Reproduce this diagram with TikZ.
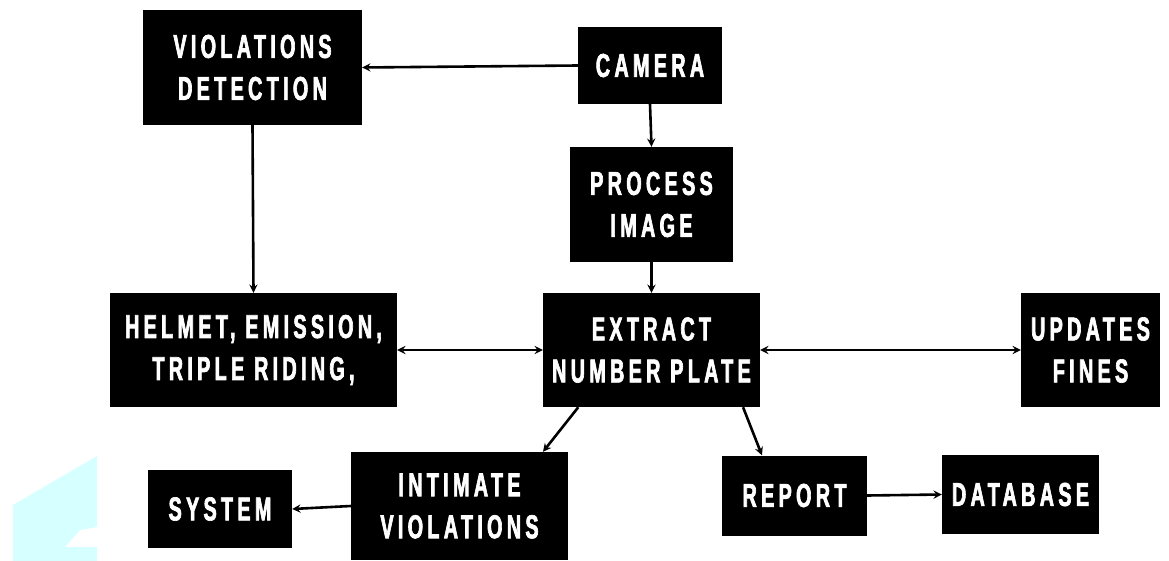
\documentclass[tikz,border=0pt]{standalone}
\usepackage{fontspec}
\newfontfamily\boxfont[FakeStretch=0.6,LetterSpace=13,FakeBold=2]{Liberation Sans}
\usetikzlibrary{arrows}
\definecolor{paleaqua}{RGB}{214,255,255}

\begin{document}
\begin{tikzpicture}[x=1pt, y=-1pt, >=stealth,
    box/.style={rectangle, fill=black, text=white, align=center,
      font=\boxfont\bfseries\fontsize{33}{42}\selectfont, inner sep=0pt},
    link/.style={line width=2.6pt}]
        \useasboundingbox (0,0) rectangle (1169,561);
        % light shape in the corner
        \fill[paleaqua] (13,505) -- (97,456) -- (97,527) -- (80,530) -- (65,547)
            -- (97,547) -- (97,561) -- (13,561) -- cycle;

        \node[box, minimum width=219, minimum height=115] (viol) at (252.5,67.5) {VIOLATIONS\\DETECTION};
        \node[box, minimum width=144, minimum height=77] (cam) at (650,65.5) {CAMERA};
        \node[box, minimum width=163, minimum height=115] (proc) at (651.5,204.5) {PROCESS\\IMAGE};
        \node[box, minimum width=287, minimum height=114] (helm) at (253.5,350) {HELMET, EMISSION,\\TRIPLE RIDING,};
        \node[box, minimum width=217, minimum height=114] (extr) at (651.5,350) {EXTRACT\\NUMBER PLATE};
        \node[box, minimum width=139, minimum height=114] (upd) at (1090.5,350) {UPDATES\\FINES};
        \node[box, minimum width=217, minimum height=108] (inti) at (459.5,506) {INTIMATE\\VIOLATIONS};
        \node[box, minimum width=144, minimum height=78] (sys) at (220,509) {SYSTEM};
        \node[box, minimum width=145, minimum height=80] (rep) at (794.5,495.5) {REPORT};
        \node[box, minimum width=157, minimum height=79] (db) at (1020.5,494.5) {DATABASE};

        \draw[->, link] (cam.west) -- (viol.east);
        \draw[->, link] (viol.south) -- (helm.north);
        \draw[->, link] (cam.south) -- (proc.north);
        \draw[->, link] (proc.south) -- (extr.north);
        \draw[<->, link] (helm.east) -- (extr.west);
        \draw[<->, link] (extr.east) -- (upd.west);
        \draw[->, link] (extr.218) -- (inti.33);
        \draw[->, link] (extr.-32) -- (rep.129);
        \draw[->, link] (inti.west) -- (sys.east);
        \draw[->, link] (rep.east) -- (db.west);
      \end{tikzpicture}
\end{document}
